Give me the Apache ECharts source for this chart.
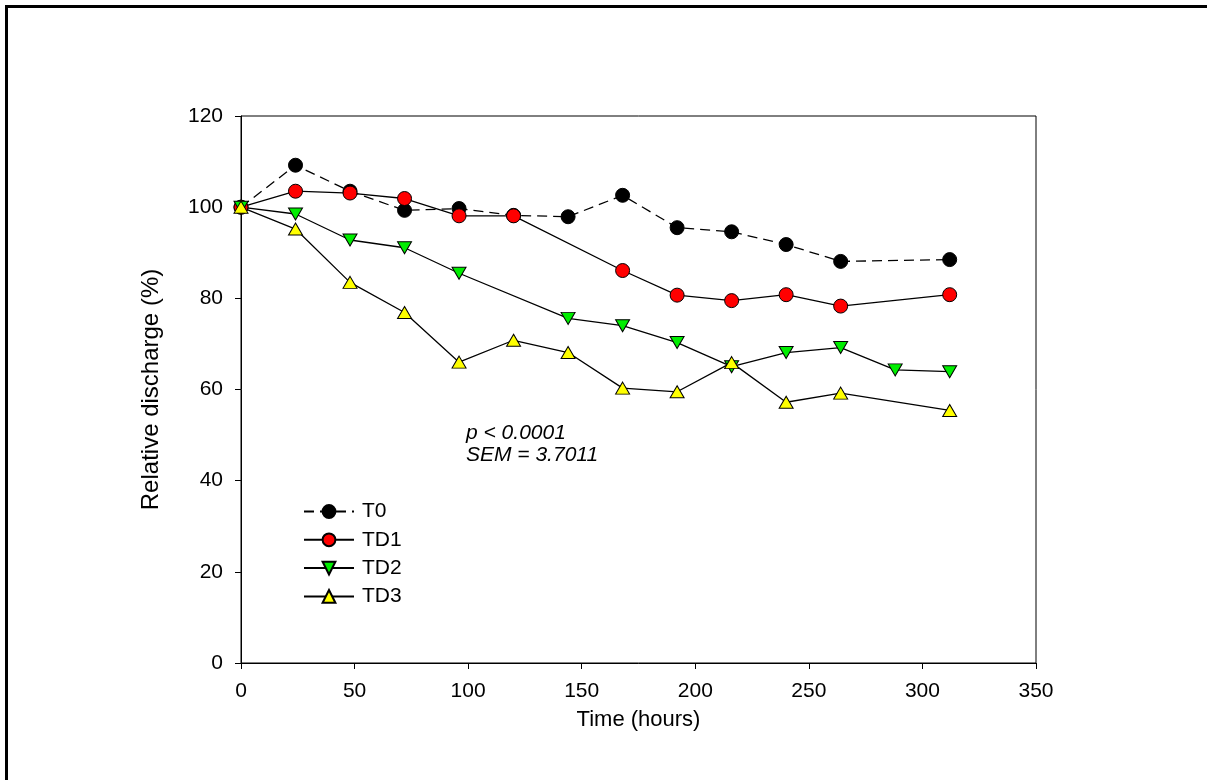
<!DOCTYPE html>
<html>
<head>
<meta charset="utf-8">
<script src="https://cdn.jsdelivr.net/npm/echarts@6/dist/echarts.min.js"></script>
<style>html,body{margin:0;padding:0;background:#fff}#c{width:1207px;height:780px}</style>
</head>
<body>
<div id="c"></div>
<script>
const seriesNames = ['T0', 'TD1', 'TD2', 'TD3'];
const t0Hours = [0, 24, 48, 72, 96, 120, 144, 168, 192, 216, 240, 264, 312];
const t0Values = [100, 109.2, 103.5, 99.3, 99.7, 98.2, 97.9, 102.6, 95.5, 94.6, 91.8, 88.1, 88.5];
const td1Hours = [0, 24, 48, 72, 96, 120, 168, 192, 216, 240, 264, 312];
const td1Values = [100, 103.5, 103.1, 101.9, 98.1, 98.1, 86.1, 80.7, 79.5, 80.8, 78.3, 80.8];
const td2Hours = [0, 24, 48, 72, 96, 144, 168, 192, 216, 240, 264, 288, 312];
const td2Values = [100, 98.5, 92.8, 91.1, 85.5, 75.6, 74.0, 70.3, 65.0, 68.1, 69.2, 64.3, 63.9];
const td3Hours = [0, 24, 48, 72, 96, 120, 144, 168, 192, 216, 240, 264, 312];
const td3Values = [100, 95.2, 83.5, 76.9, 66.0, 70.8, 68.1, 60.3, 59.5, 65.9, 57.2, 59.2, 55.4];
const annotationLines = ['p < 0.0001', 'SEM = 3.7011'];

const pair = (xs, ys) => xs.map((x, i) => [x, ys[i]]);
const font = 'Liberation Sans, Arial, sans-serif';

const chart = echarts.init(document.getElementById('c'), null, {renderer: 'canvas'});
const base = {
  type: 'line',
  lineStyle: {color: '#000', width: 1.3},
  itemStyle: {borderColor: '#000', borderWidth: 1},
  emphasis: {disabled: true},
  animation: false
};
chart.setOption({
  backgroundColor: '#fff',
  animation: false,
  grid: {left: 241, top: 116, right: 171, bottom: 117, show: true, borderColor: '#000', borderWidth: 1, backgroundColor: 'transparent'},
  xAxis: {
    type: 'value', min: 0, max: 350, interval: 50,
    name: 'Time (hours)', nameLocation: 'middle', nameGap: 46,
    nameTextStyle: {fontFamily: font, fontSize: 22, color: '#000'},
    axisLine: {show: true, onZero: false, lineStyle: {color: '#000', width: 1}},
    axisTick: {show: true, inside: false, length: 6, lineStyle: {color: '#000'}},
    axisLabel: {fontFamily: font, fontSize: 21, color: '#000', margin: 18},
    splitLine: {show: false}
  },
  yAxis: {
    type: 'value', min: 0, max: 120, interval: 20,
    name: 'Relative discharge (%)', nameLocation: 'middle', nameGap: 78,
    nameTextStyle: {fontFamily: font, fontSize: 24, color: '#000'},
    axisLine: {show: true, lineStyle: {color: '#000', width: 1}},
    axisTick: {show: true, inside: false, length: 6, lineStyle: {color: '#000'}},
    axisLabel: {fontFamily: font, fontSize: 21, color: '#000', margin: 18},
    splitLine: {show: false}
  },
  legend: {
    orient: 'vertical', left: 298, top: 496,
    itemWidth: 50, itemHeight: 16, itemGap: 7.3,
    data: seriesNames,
    textStyle: {fontFamily: font, fontSize: 21, color: '#000', padding: [0, 0, 0, 3]},
    selectedMode: false
  },
  graphic: [
    {type: 'rect', left: 4, top: 4, shape: {width: 1230, height: 800}, style: {fill: 'none', stroke: '#000', lineWidth: 3}, silent: true},
    {type: 'text', left: 466, top: 422, style: {text: annotationLines.join('\n'), font: 'italic 21px ' + font, fill: '#000', lineHeight: 22}}
  ],
  series: [
    Object.assign({}, base, {name: seriesNames[0], data: pair(t0Hours, t0Values), symbol: 'circle', symbolSize: 14,
      lineStyle: {color: '#000', width: 1.3, type: [10, 6]}, itemStyle: {color: '#000', borderColor: '#000', borderWidth: 1}}),
    Object.assign({}, base, {name: seriesNames[1], data: pair(td1Hours, td1Values), symbol: 'circle', symbolSize: 14,
      itemStyle: {color: '#ff0000', borderColor: '#000', borderWidth: 1}}),
    Object.assign({}, base, {name: seriesNames[2], data: pair(td2Hours, td2Values), symbol: 'triangle', symbolSize: [14, 12], symbolRotate: 180,
      itemStyle: {color: '#00ee00', borderColor: '#000', borderWidth: 1}}),
    Object.assign({}, base, {name: seriesNames[3], data: pair(td3Hours, td3Values), symbol: 'triangle', symbolSize: [14, 12],
      itemStyle: {color: '#ffff00', borderColor: '#000', borderWidth: 1}})
  ]
});
</script>
</body>
</html>
